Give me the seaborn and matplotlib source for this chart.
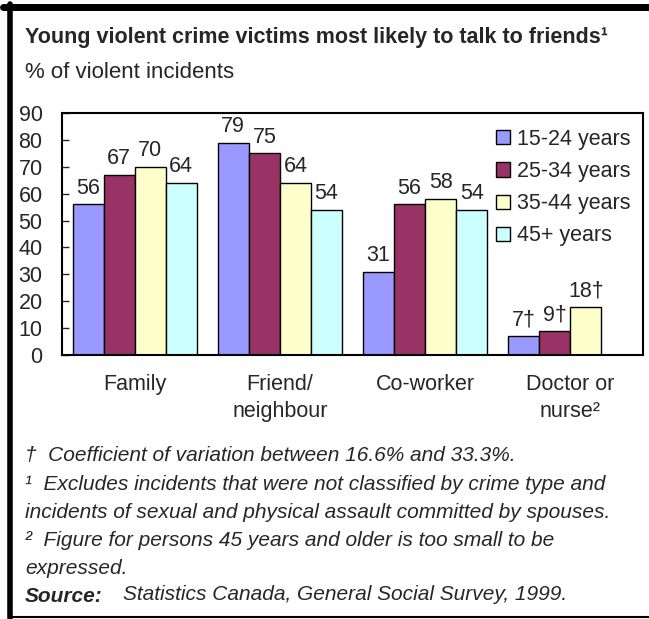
import matplotlib
matplotlib.use("Agg")
import matplotlib.pyplot as plt
import seaborn as sns
import pandas as pd
import numpy as np
from matplotlib.lines import Line2D
from matplotlib.patches import Patch

categories = ["Family", "Friend/\nneighbour", "Co-worker", "Doctor or\nnurse²"]
age_groups = ["15-24 years", "25-34 years", "35-44 years", "45+ years"]
v_15_24 = [56, 79, 31, 7]
v_25_34 = [67, 75, 56, 9]
v_35_44 = [70, 64, 58, 18]
v_45p = [64, 54, 54, np.nan]
labels_15_24 = ["56", "79", "31", "7†"]
labels_25_34 = ["67", "75", "56", "9†"]
labels_35_44 = ["70", "64", "58", "18†"]
labels_45p = ["64", "54", "54", ""]
colors = ["#9999FF", "#993366", "#FFFFCC", "#CCFFFF"]

sns.set_style("white")
plt.rcParams["font.family"] = ["Liberation Sans", "DejaVu Sans"]

rows = []
for g, vals in zip(age_groups, [v_15_24, v_25_34, v_35_44, v_45p]):
    for c, v in zip(categories, vals):
        rows.append({"category": c, "age": g, "value": v})
df = pd.DataFrame(rows)

fig = plt.figure(figsize=(6.49, 6.19), dpi=100)
ax = fig.add_axes([62/649, 1-355/619, (643-62)/649, (355-113)/619])
sns.barplot(data=df, x="category", y="value", hue="age", hue_order=age_groups,
            order=categories, palette=colors, width=0.855, edgecolor="black",
            linewidth=1.0, saturation=1, ax=ax, legend=False, errorbar=None)

all_labels = [labels_15_24, labels_25_34, labels_35_44, labels_45p]
for cont, labs in zip(ax.containers, all_labels):
    for bar, lab in zip(cont, labs):
        h = bar.get_height()
        if lab and not np.isnan(h):
            ax.annotate(lab, (bar.get_x() + bar.get_width()/2, h), xytext=(0, 4),
                        textcoords="offset points", ha="center", va="bottom", fontsize=15.5)

ax.set_ylim(0, 90)
ax.set_yticks(range(0, 91, 10))
ax.set_xlabel("")
ax.set_ylabel("")
ax.tick_params(axis="y", direction="in", length=5, width=1, labelsize=15.5, pad=14, left=True)
ax.tick_params(axis="x", length=0, labelsize=15.5, pad=14)
for lab in ax.get_xticklabels():
    lab.set_linespacing(1.35)
for s in ax.spines.values():
    s.set_visible(True)
    s.set_color("black")
    s.set_linewidth(1.5)

handles = [Patch(facecolor=c, edgecolor="black", label=g) for c, g in zip(colors, age_groups)]
ax.legend(handles=handles, loc="upper left", bbox_to_anchor=(0.733, 0.97), frameon=False,
          fontsize=15.5, handlelength=0.65, handleheight=0.65, handletextpad=0.3,
          labelspacing=0.52, borderaxespad=0)

fig.text(25/649, 1-37/619, "Young violent crime victims most likely to talk to friends¹",
         fontsize=15.5, fontweight="bold", va="center")
fig.text(25/649, 1-73/619, "% of violent incidents", fontsize=16, va="center")

foot = [
    (455, "†  Coefficient of variation between 16.6% and 33.3%."),
    (484, "¹  Excludes incidents that were not classified by crime type and"),
    (512, "incidents of sexual and physical assault committed by spouses."),
    (540, "²  Figure for persons 45 years and older is too small to be"),
    (568, "expressed."),
]
for y, t in foot:
    fig.text(25/649, 1-y/619, t, fontsize=15, style="italic", va="center")
fig.text(25/649, 1-597/619, "Source:", fontsize=15, style="italic", fontweight="bold", va="center")
fig.text(123/649, 1-595/619, "Statistics Canada, General Social Survey, 1999.", fontsize=15,
         style="italic", va="center")

W, H = 649, 619
fig.add_artist(Line2D([3/W, 1], [1-7/H, 1-7/H], color="black", linewidth=5, transform=fig.transFigure))
fig.add_artist(Line2D([10/W, 10/W], [1-4/H, 1-618/H], color="black", linewidth=4, transform=fig.transFigure))
fig.add_artist(Line2D([10/W, 1], [1-617/H, 1-617/H], color="black", linewidth=1.5, transform=fig.transFigure))

fig.savefig("out.png", dpi=100)
